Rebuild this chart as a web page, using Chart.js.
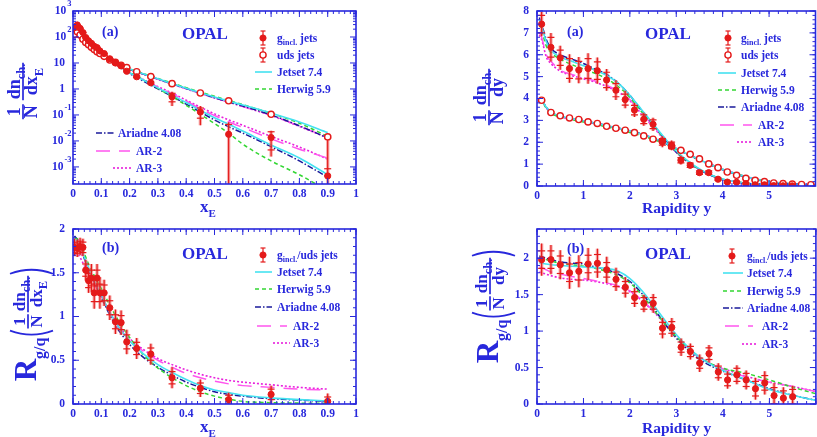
<!DOCTYPE html>
<html><head><meta charset="utf-8">
<script src="https://cdn.jsdelivr.net/npm/chart.js@4/dist/chart.umd.min.js"></script>
<style>
html,body{margin:0;padding:0;background:#fff;overflow:hidden;width:817px;height:437px;position:relative;}
canvas{position:absolute;}
</style></head><body>
<canvas id="pTL" width="410" height="218" style="left:0px;top:0px"></canvas>
<canvas id="pTR" width="410" height="218" style="left:410px;top:0px"></canvas>
<canvas id="pBL" width="410" height="219" style="left:0px;top:218px"></canvas>
<canvas id="pBR" width="410" height="219" style="left:410px;top:218px"></canvas>
<script>
// ================= DATA =================
// x_E distributions (top-left)
const xeBins = [0.005,0.015,0.025,0.035,0.045,0.055,0.065,0.075,0.085,0.095,0.11,0.13,0.15,0.17,0.19,0.225,0.275,0.35,0.45,0.55,0.7,0.9];
const xeGluon = [225,290,215,148,95,71,57,44,39,29,23,14.5,10,7.7,4.8,2.95,1.72,0.5,0.13,0.018,0.0135,0.00045];
const xeGluonTot = [12,15,11,8,5,4,3,2.5,2,1.6,1.2,0.8,0.6,0.45,0.45,0.35,0.25,0.28,0.09,0.034,0.011,0.0105];
const xeGluonStat = [6,8,6,4,3,2,1.6,1.3,1.1,0.9,0.7,0.45,0.35,0.25,0.25,0.2,0.15,0.18,0.055,0.025,0.009,0.0004];
const xeUds = [125,160,120,82,62,50,40,33,27,23,18,13,10.5,8.2,6.6,4.6,3.0,1.6,0.70,0.35,0.106,0.0143];
const xeUdsTot = [4,5,4,3,2,1.5,1.2,1,0.8,0.7,0.5,0.4,0.3,0.25,0.2,0.15,0.1,0.06,0.03,0.02,0.008,0.0025];
const xeUdsStat = [2,3,2,1.5,1,0.8,0.6,0.5,0.4,0.35,0.25,0.2,0.15,0.12,0.1,0.08,0.05,0.03,0.015,0.01,0.004,0.0012];
// model curves, x_E
const xeModelX = [0.005,0.02,0.04,0.06,0.08,0.1,0.125,0.15,0.175,0.2,0.25,0.3,0.35,0.4,0.45,0.5,0.55,0.6,0.7,0.8,0.9];
const xeUdsJetset  = [130,150,75,45,30,22,14.5,10.3,7.6,5.8,3.8,2.45,1.62,1.07,0.72,0.49,0.34,0.24,0.118,0.054,0.021];
const xeUdsHerwig  = [128,148,74,45,30,22,14.5,10.3,7.7,5.9,3.9,2.55,1.7,1.12,0.76,0.52,0.36,0.25,0.115,0.048,0.015];
const xeUdsAriadne = [130,150,75,45,30,22,14.4,10.2,7.5,5.7,3.7,2.4,1.58,1.04,0.69,0.46,0.32,0.22,0.1,0.038,0.013];
const xeUdsAR2     = [125,147,74,45,30,22,14.4,10.2,7.5,5.7,3.7,2.38,1.56,1.02,0.68,0.45,0.31,0.21,0.097,0.037,0.0135];
const xeUdsAR3     = [122,145,73,44,30,22,14.3,10.1,7.4,5.6,3.65,2.36,1.55,1.01,0.67,0.45,0.31,0.21,0.096,0.036,0.013];
const xeGJetset  = [245,280,125,68,41,27,15.5,9.7,6.2,4.2,2.15,1.1,0.58,0.3,0.15,0.078,0.044,0.024,0.007,0.0022,0.0005];
const xeGHerwig  = [245,280,128,70,43,29,16.8,10.4,6.8,4.5,2.2,1.05,0.51,0.235,0.106,0.047,0.02,0.0075,0.0017,0.0005,0.00012];
const xeGAriadne = [250,280,125,67,40,26.8,15,9.2,5.9,3.9,1.96,1.0,0.52,0.26,0.13,0.064,0.035,0.02,0.006,0.0017,0.0004];
const xeGAR2     = [228,262,120,66,40,27,15.4,9.5,6.2,4.2,2.2,1.19,0.65,0.34,0.17,0.095,0.055,0.033,0.012,0.0048,0.0022];
const xeGAR3     = [210,246,115,64,40,27,15.4,9.6,6.2,4.2,2.26,1.23,0.7,0.37,0.2,0.11,0.065,0.04,0.015,0.0058,0.002];
// ratio in x_E (bottom-left)
const xeRatio = [1.79,1.78,1.80,1.79,1.53,1.41,1.44,1.27,1.44,1.27,1.27,1.10,0.94,0.93,0.71,0.635,0.57,0.30,0.18,0.05,0.11,0.03];
const xeRatioTot = [0.1,0.1,0.1,0.1,0.12,0.14,0.16,0.18,0.16,0.18,0.15,0.14,0.14,0.14,0.14,0.12,0.12,0.12,0.1,0.08,0.1,0.09];
const xeRatioStat = [0.06,0.06,0.06,0.06,0.07,0.08,0.09,0.1,0.09,0.1,0.09,0.08,0.08,0.08,0.08,0.07,0.07,0.07,0.06,0.05,0.06,0.05];
const xeRJetset  = [1.88,1.85,1.68,1.52,1.38,1.25,1.08,0.94,0.82,0.72,0.57,0.45,0.36,0.28,0.21,0.16,0.13,0.10,0.07,0.05,0.035];
const xeRHerwig  = [1.9,1.87,1.72,1.56,1.44,1.32,1.16,1.01,0.88,0.76,0.56,0.41,0.3,0.21,0.14,0.09,0.055,0.03,0.015,0.01,0.008];
const xeRAriadne = [1.92,1.86,1.66,1.5,1.36,1.22,1.05,0.9,0.78,0.68,0.53,0.42,0.33,0.25,0.19,0.14,0.11,0.09,0.06,0.045,0.03];
const xeRAR2     = [1.82,1.78,1.62,1.48,1.35,1.23,1.07,0.93,0.82,0.73,0.6,0.5,0.42,0.35,0.3,0.26,0.23,0.21,0.19,0.17,0.16];
const xeRAR3     = [1.72,1.70,1.58,1.46,1.34,1.23,1.08,0.95,0.84,0.75,0.62,0.52,0.45,0.39,0.34,0.30,0.27,0.25,0.22,0.19,0.17];
// rapidity distributions (top-right)
const rapBinsG = [0.1,0.3,0.5,0.7,0.9,1.1,1.3,1.5,1.7,1.9,2.1,2.3,2.5,2.7,2.9,3.1,3.3,3.5,3.7,3.9,4.1,4.3,4.5,4.7,4.9,5.1,5.3,5.5];
const rapGluon = [7.4,6.34,5.86,5.37,5.3,5.37,5.27,4.85,4.38,3.95,3.47,3.05,2.82,2.02,1.86,1.18,0.95,0.61,0.61,0.31,0.18,0.17,0.11,0.055,0.055,0.017,0.01,0.007];
const rapGluonTot = [0.55,0.65,0.55,0.65,0.6,0.7,0.6,0.5,0.45,0.4,0.32,0.3,0.3,0.25,0.22,0.2,0.15,0.12,0.12,0.08,0.06,0.06,0.05,0.04,0.04,0.03,0.03,0.02];
const rapGluonStat = [0.4,0.45,0.35,0.45,0.4,0.45,0.4,0.35,0.3,0.25,0.22,0.2,0.2,0.15,0.15,0.12,0.1,0.08,0.08,0.05,0.04,0.04,0.03,0.03,0.03,0.02,0.02,0.015];
const rapBinsU = [0.1,0.3,0.5,0.7,0.9,1.1,1.3,1.5,1.7,1.9,2.1,2.3,2.5,2.7,2.9,3.1,3.3,3.5,3.7,3.9,4.1,4.3,4.5,4.7,4.9,5.1,5.3,5.5,5.7,5.9];
const rapUds = [3.92,3.36,3.21,3.11,3.04,2.93,2.86,2.73,2.64,2.55,2.44,2.29,2.14,2.06,1.82,1.63,1.45,1.24,1.01,0.84,0.64,0.49,0.35,0.26,0.2,0.14,0.11,0.09,0.07,0.06];
const rapUdsTot = [0.06,0.05,0.05,0.05,0.05,0.05,0.05,0.05,0.05,0.05,0.05,0.05,0.05,0.05,0.05,0.04,0.04,0.04,0.04,0.03,0.03,0.03,0.03,0.02,0.02,0.02,0.02,0.02,0.02,0.02];
const rapUdsStat = [0.03,0.03,0.03,0.03,0.03,0.03,0.03,0.03,0.03,0.03,0.03,0.03,0.03,0.03,0.03,0.02,0.02,0.02,0.02,0.02,0.02,0.02,0.02,0.01,0.01,0.01,0.01,0.01,0.01,0.01];
const rapModelX = [0.05,0.1,0.2,0.3,0.5,0.75,1.0,1.25,1.5,1.75,2.0,2.25,2.5,2.75,3.0,3.25,3.5,3.75,4.0,4.5,5.0,5.5,6.0];
const rapGJetset  = [7.6,7.3,6.6,6.2,5.9,5.7,5.5,5.3,5.05,4.7,4.15,3.5,2.85,2.2,1.6,1.15,0.78,0.5,0.32,0.13,0.05,0.02,0.01];
const rapGHerwig  = [7.4,7.1,6.4,6.1,5.8,5.55,5.35,5.15,4.9,4.55,4.05,3.4,2.8,2.15,1.58,1.12,0.76,0.5,0.32,0.13,0.05,0.02,0.01];
const rapGAriadne = [7.7,7.4,6.7,6.3,6.0,5.8,5.6,5.35,5.1,4.7,4.15,3.45,2.8,2.15,1.55,1.1,0.75,0.48,0.3,0.12,0.045,0.018,0.008];
const rapGAR2     = [7.0,6.8,6.0,5.7,5.3,5.1,4.95,4.8,4.6,4.35,3.95,3.35,2.75,2.12,1.55,1.1,0.75,0.49,0.31,0.13,0.05,0.02,0.01];
const rapGAR3     = [6.9,6.7,5.9,5.6,5.25,5.05,4.9,4.75,4.55,4.3,3.9,3.3,2.7,2.1,1.55,1.1,0.75,0.49,0.31,0.13,0.05,0.02,0.01];
const rapUJetset  = [4.0,3.93,3.6,3.38,3.2,3.08,2.98,2.87,2.76,2.64,2.53,2.38,2.2,1.98,1.72,1.45,1.2,0.97,0.76,0.42,0.2,0.09,0.04];
const rapUHerwig  = [3.98,3.9,3.55,3.33,3.15,3.03,2.93,2.82,2.7,2.58,2.45,2.3,2.13,1.93,1.7,1.45,1.2,0.97,0.77,0.43,0.21,0.095,0.04];
const rapUAriadne = [4.0,3.93,3.6,3.38,3.2,3.08,2.98,2.88,2.77,2.65,2.54,2.38,2.18,1.96,1.7,1.43,1.18,0.95,0.74,0.4,0.19,0.085,0.035];
const rapUAR2     = [3.98,3.9,3.58,3.36,3.18,3.06,2.96,2.86,2.75,2.64,2.53,2.38,2.2,1.98,1.72,1.46,1.21,0.98,0.77,0.43,0.21,0.095,0.04];
const rapUAR3     = [3.97,3.89,3.57,3.35,3.17,3.05,2.95,2.85,2.74,2.63,2.52,2.37,2.19,1.97,1.72,1.46,1.21,0.98,0.77,0.43,0.21,0.095,0.04];
// ratio in rapidity (bottom-right)
const rapRatio = [1.98,1.98,1.91,1.80,1.82,1.92,1.93,1.84,1.71,1.60,1.46,1.38,1.38,1.04,1.05,0.78,0.72,0.56,0.69,0.44,0.33,0.40,0.33,0.21,0.29,0.115,0.08,0.10];
const rapRatioTot = [0.22,0.2,0.2,0.22,0.22,0.22,0.2,0.18,0.16,0.14,0.13,0.12,0.13,0.14,0.13,0.12,0.11,0.12,0.12,0.12,0.12,0.13,0.13,0.15,0.16,0.17,0.15,0.15];
const rapRatioStat = [0.12,0.12,0.12,0.12,0.12,0.12,0.12,0.1,0.1,0.08,0.08,0.08,0.08,0.08,0.08,0.07,0.07,0.07,0.08,0.08,0.08,0.09,0.09,0.1,0.1,0.11,0.1,0.1];
const rapRJetset  = [1.93,1.93,1.92,1.91,1.9,1.89,1.88,1.87,1.86,1.82,1.72,1.56,1.36,1.15,0.95,0.78,0.64,0.54,0.46,0.33,0.2,0.12,0.05];
const rapRHerwig  = [2.01,2.0,1.98,1.96,1.93,1.91,1.89,1.86,1.82,1.76,1.66,1.5,1.3,1.1,0.92,0.77,0.64,0.55,0.49,0.42,0.33,0.23,0.14];
const rapRAriadne = [2.03,2.02,2.0,1.98,1.95,1.93,1.92,1.88,1.84,1.78,1.68,1.52,1.32,1.1,0.9,0.74,0.61,0.52,0.45,0.33,0.21,0.12,0.05];
const rapRAR2     = [1.88,1.87,1.84,1.81,1.78,1.75,1.72,1.69,1.66,1.62,1.55,1.43,1.28,1.1,0.93,0.77,0.64,0.55,0.48,0.37,0.3,0.24,0.17];
const rapRAR3     = [1.81,1.8,1.78,1.76,1.73,1.71,1.7,1.68,1.65,1.61,1.54,1.42,1.27,1.1,0.92,0.77,0.64,0.55,0.49,0.38,0.3,0.24,0.17];
// tick labels
const xeTicks = [0,0.1,0.2,0.3,0.4,0.5,0.6,0.7,0.8,0.9,1];
const xeTickLabels = ['0','0.1','0.2','0.3','0.4','0.5','0.6','0.7','0.8','0.9','1'];
const rapTicks = [0,1,2,3,4,5,6];
const rapTickLabels = ['0','1','2','3','4','5',''];
const logTicks = [1e3,1e2,10,1,0.1,0.01,0.001];
const logTickBase = ['10','10','10','1','10','10','10'];
const logTickExp = ['3','2','','','-1','-2','-3'];
const dyTicks = [0,1,2,3,4,5,6,7,8];
const dyTickLabels = ['0','1','2','3','4','5','6','7','8'];
const rTicks = [0,0.5,1,1.5,2];
const rTickLabels = ['0','0.5','1','1.5','2'];
const modelNames = ['Jetset 7.4','Herwig 5.9','Ariadne 4.08','AR-2','AR-3'];

// ================= STYLE =================
const BLUE = '#2828dc';
const RED = '#e41a1a';
const FONT = '"Liberation Serif","Times New Roman",serif';
const MST = [
  {color:'#44e2f0', dash:[], width:1.6},
  {color:'#33d633', dash:[4,3], width:1.5},
  {color:'#1a1a9a', dash:[6,2,1.5,2], width:1.5},
  {color:'#ff55ee', dash:[14,9], width:1.5},
  {color:'#e820dc', dash:[2,2], width:1.6}
];

function modelSets(xs, arrs){
  return arrs.map((arr,i)=>({
    label: modelNames[i],
    data: xs.map((x,j)=>({x:x, y:arr[j]})),
    showLine:true, pointRadius:0, borderColor:MST[i].color, borderWidth:MST[i].width,
    borderDash:MST[i].dash, cubicInterpolationMode:'monotone', fill:false
  }));
}
function pointSet(label, xs, ys, tot, stat, open){
  return {label, data: xs.map((x,j)=>({x:x, y:ys[j]})), errTot:tot, errStat:stat,
    showLine:false, pointRadius:3.1, pointHoverRadius:3.1,
    pointBackgroundColor: open?'#ffffff':RED, pointBorderColor:RED, pointBorderWidth: open?1.4:1};
}

// ================= DRAW HELPERS =================
function fnt(sz, w){ return (w||'bold')+' '+sz+'px '+FONT; }
function measureRich(ctx, parts, fs){
  let w=0;
  for(const p of parts){ const f = p[1]==='n'? fs : (p[2]||Math.round(fs*0.68)); ctx.font=fnt(f); w+=ctx.measureText(p[0]).width; }
  return w;
}
function rich(ctx, x, y, parts, fs, align){
  const w = measureRich(ctx, parts, fs);
  let cx = align==='center'? x-w/2 : align==='right'? x-w : x;
  for(const p of parts){
    const f = p[1]==='n'? fs : (p[2]||Math.round(fs*0.68));
    ctx.font=fnt(f);
    const dy = p[1]==='b'? fs*0.3 : p[1]==='p'? -fs*0.45 : 0;
    ctx.fillText(p[0], cx, y+dy);
    cx += ctx.measureText(p[0]).width;
  }
  return w;
}
function seg(ctx,x1,y1,x2,y2){ ctx.beginPath(); ctx.moveTo(x1,y1); ctx.lineTo(x2,y2); ctx.stroke(); }

function legMarker(ctx, x, y, open){
  ctx.save();
  ctx.strokeStyle=RED; ctx.lineWidth=1.2; ctx.setLineDash([]);
  seg(ctx,x,y-7,x,y+7); seg(ctx,x-2.5,y-7,x+2.5,y-7); seg(ctx,x-2.5,y+7,x+2.5,y+7);
  ctx.beginPath(); ctx.arc(x,y,3.1,0,Math.PI*2);
  ctx.fillStyle= open? '#fff': RED; ctx.fill(); ctx.lineWidth=open?1.4:1; ctx.stroke();
  ctx.restore();
}
function legLine(ctx, x1, x2, y, i){
  ctx.save(); ctx.strokeStyle=MST[i].color; ctx.lineWidth=MST[i].width; ctx.setLineDash(MST[i].dash);
  seg(ctx,x1,y,x2,y); ctx.restore();
}
function legText(ctx, x, y, parts){ ctx.fillStyle=BLUE; ctx.textBaseline='alphabetic'; rich(ctx, x, y+4, parts, 11.5, 'left'); }

function measureItem(ctx, it){
  if(it.t==='txt') return measureRich(ctx, it.parts, it.fs);
  if(it.t==='frac') return Math.max(measureRich(ctx,it.num,it.fs), measureRich(ctx,it.den,it.fs))+4;
  if(it.t==='paren') return 8;
  return it.w;
}
function yTitle(ctx, cx, cy, items){
  ctx.save(); ctx.translate(cx,cy); ctx.rotate(-Math.PI/2);
  ctx.fillStyle=BLUE; ctx.strokeStyle=BLUE; ctx.textBaseline='alphabetic'; ctx.setLineDash([]);
  const ws = items.map(it=>measureItem(ctx,it));
  let u = -ws.reduce((s,w)=>s+w,0)/2;
  items.forEach((it,i)=>{
    const w=ws[i];
    if(it.t==='txt'){ rich(ctx,u,it.v||0,it.parts,it.fs,'left'); }
    else if(it.t==='frac'){
      ctx.lineWidth=1.7; seg(ctx,u+1,it.bar,u+w-1,it.bar);
      rich(ctx,u+w/2,it.bar-3,it.num,it.fs,'center');
      rich(ctx,u+w/2,it.bar+it.fs*0.72+1.5,it.den,it.fs,'center');
    } else if(it.t==='paren'){
      ctx.lineWidth=1.8; ctx.beginPath();
      if(it.open){ ctx.moveTo(u+7,it.v1); ctx.quadraticCurveTo(u-1,(it.v1+it.v2)/2,u+7,it.v2); }
      else { ctx.moveTo(u+1,it.v1); ctx.quadraticCurveTo(u+9,(it.v1+it.v2)/2,u+1,it.v2); }
      ctx.stroke();
    }
    u+=w;
  });
  ctx.restore();
}

function drawErrors(chart, ds){
  const ctx=chart.ctx, a=chart.chartArea, xs=chart.scales.x, ys=chart.scales.y;
  const log = ys.type==='logarithmic';
  const py = v => (log && v<=0) ? a.bottom+30 : ys.getPixelForValue(v);
  ctx.save(); ctx.beginPath(); ctx.rect(a.left,a.top,a.right-a.left,a.bottom-a.top); ctx.clip();
  ctx.setLineDash([]);
  ds.data.forEach((p,i)=>{
    const x=xs.getPixelForValue(p.x);
    const t=ds.errTot[i], s=ds.errStat[i];
    const y1=py(p.y-t), y2=py(p.y+t);
    ctx.strokeStyle='rgba(242,110,110,0.55)'; ctx.lineWidth=3.4;
    seg(ctx,x,y1,x,y2);
    ctx.strokeStyle=RED; ctx.lineWidth=1.2;
    seg(ctx,x,y1,x,y2);
    const s1=py(p.y-s), s2=py(p.y+s);
    seg(ctx,x-3.5,s1,x+3.5,s1); seg(ctx,x-3.5,s2,x+3.5,s2);
  });
  ctx.restore();
}

function drawAxes(chart, c){
  const ctx=chart.ctx, a=chart.chartArea, xs=chart.scales.x, ys=chart.scales.y;
  ctx.save(); ctx.setLineDash([]);
  ctx.strokeStyle=BLUE; ctx.lineWidth=1;
  const xMin=xs.min, xMax=xs.max;
  for(let v=xMin; v<=xMax+1e-9; v+=c.xMinorStep){ const x=xs.getPixelForValue(v); seg(ctx,x,a.bottom,x,a.bottom-3); seg(ctx,x,a.top,x,a.top+3); }
  c.xMajor.forEach(v=>{ const x=xs.getPixelForValue(v); seg(ctx,x,a.bottom,x,a.bottom-6); seg(ctx,x,a.top,x,a.top+6); });
  if(c.log){
    for(let e=-4;e<=3;e++) for(let k=2;k<=9;k++){ const v=k*Math.pow(10,e); if(v<ys.min||v>ys.max) continue; const y=ys.getPixelForValue(v); seg(ctx,a.left,y,a.left+3,y); seg(ctx,a.right,y,a.right-3,y); }
  } else {
    for(let v=ys.min; v<=ys.max+1e-9; v+=c.yMinorStep){ const y=ys.getPixelForValue(v); seg(ctx,a.left,y,a.left+3,y); seg(ctx,a.right,y,a.right-3,y); }
  }
  c.yMajor.forEach(v=>{ const y=ys.getPixelForValue(v); seg(ctx,a.left,y,a.left+6,y); seg(ctx,a.right,y,a.right-6,y); });
  ctx.lineWidth=1.6;
  ctx.strokeRect(a.left,a.top,a.right-a.left,a.bottom-a.top);
  // labels
  ctx.fillStyle=BLUE; ctx.textBaseline='middle';
  ctx.font=fnt(11.5); ctx.textAlign='center';
  c.xMajor.forEach((v,i)=>{ ctx.fillText(c.xLabels[i], xs.getPixelForValue(v), a.bottom+10); });
  ctx.textAlign='left';
  c.yMajor.forEach((v,i)=>{
    const y=ys.getPixelForValue(v);
    if(c.log){
      const b=logTickBase[i], e=logTickExp[i];
      if(e===''){ ctx.font=fnt(11.5); ctx.textAlign='right'; ctx.fillText(b, a.left-8, y); }
      else {
        ctx.font=fnt(8.5); const we=ctx.measureText(e).width;
        ctx.textAlign='left'; ctx.fillText(e, a.left-1.5-we, y-7);
        ctx.font=fnt(11.5); ctx.textAlign='right'; ctx.fillText(b, a.left-2.5-we, y);
      }
    } else { ctx.font=fnt(11.5); ctx.textAlign='right'; ctx.fillText(c.yLabels[i], a.left-8, y); }
  });
  ctx.restore();
}

const cfgs = {};
const decoPlugin = {
  id:'deco',
  beforeDatasetDraw(chart, args){ const ds=chart.data.datasets[args.index]; if(ds.errTot) drawErrors(chart, ds); },
  afterDraw(chart){
    const c = cfgs[chart.canvas.id]; const ctx=chart.ctx;
    drawAxes(chart, c);
    ctx.save(); ctx.translate(-c.ox,-c.oy); ctx.textAlign='left'; ctx.textBaseline='alphabetic'; ctx.fillStyle=BLUE;
    c.decor(ctx);
    ctx.restore();
  }
};

function makeChart(id, ox, oy, w, h, area, xRange, yOpt, datasets, c){
  c.ox=ox; c.oy=oy; cfgs[id]=c;
  return new Chart(document.getElementById(id), {
    type:'scatter',
    data:{datasets},
    options:{
      responsive:false, animation:false, events:[],
      layout:{padding:{left:area.l-ox, top:area.t-oy, right:ox+w-area.r, bottom:oy+h-area.b}},
      plugins:{legend:{display:false}, tooltip:{enabled:false}},
      scales:{
        x:{type:'linear', min:xRange[0], max:xRange[1], display:false},
        y:Object.assign({display:false}, yOpt)
      }
    },
    plugins:[decoPlugin]
  });
}

const gLab = [['g','n'],['incl.','b',8],[' jets','n']];
const ratioLab = [['g','n'],['incl.','b',8],['/uds jets','n']];
const rTitleDx = [
  {t:'txt',parts:[['R','n'],['g/q','b',16]],fs:31,v:0},
  {t:'paren',open:true,v1:-26,v2:17},
  {t:'frac',num:[['1','n']],den:[['N','n']],fs:17,bar:-8},
  {t:'frac',num:[['dn','n'],['ch.','b',12.5]],den:[['dx','n'],['E','b',12.5]],fs:17,bar:-8},
  {t:'paren',open:false,v1:-26,v2:17}
];
const rTitleDy = [
  {t:'txt',parts:[['R','n'],['g/q','b',16]],fs:31,v:0},
  {t:'paren',open:true,v1:-26,v2:17},
  {t:'frac',num:[['1','n']],den:[['N','n']],fs:17,bar:-8},
  {t:'frac',num:[['dn','n'],['ch.','b',12.5]],den:[['dy','n']],fs:17,bar:-8},
  {t:'paren',open:false,v1:-26,v2:17}
];

// ---- Top-left: x_E ----
makeChart('pTL',0,0,410,218,{l:73,t:11,r:356,b:184},[0,1],{type:'logarithmic',min:2.2e-4,max:1000},
  [pointSet('g incl. jets',xeBins,xeGluon,xeGluonTot,xeGluonStat,false),
   pointSet('uds jets',xeBins,xeUds,xeUdsTot,xeUdsStat,true)]
   .concat(modelSets(xeModelX,[xeUdsJetset,xeUdsHerwig,xeUdsAriadne,xeUdsAR2,xeUdsAR3]))
   .concat(modelSets(xeModelX,[xeGJetset,xeGHerwig,xeGAriadne,xeGAR2,xeGAR3])),
  {log:true, xMajor:xeTicks, xLabels:xeTickLabels, xMinorStep:0.02, yMajor:logTicks,
   decor(ctx){
     ctx.font=fnt(14); ctx.fillText('(a)',102,36);
     ctx.font=fnt(17); ctx.fillText('OPAL',182,39);
     legMarker(ctx,263,38,false); legText(ctx,277,38,gLab);
     legMarker(ctx,263,55,true); legText(ctx,277,55,[['uds jets','n']]);
     legLine(ctx,255,272,72,0); legText(ctx,277,72,[[modelNames[0],'n']]);
     legLine(ctx,255,272,89,1); legText(ctx,277,89,[[modelNames[1],'n']]);
     legLine(ctx,96,115,133,2); legText(ctx,118,133,[[modelNames[2],'n']]);
     legLine(ctx,96,130,151,3); legText(ctx,136,151,[[modelNames[3],'n']]);
     legLine(ctx,113,132,168,4); legText(ctx,136,168,[[modelNames[4],'n']]);
     ctx.fillStyle=BLUE; rich(ctx,200,212,[['x','n'],['E','b',11]],17,'left');
     yTitle(ctx,28,91,[
       {t:'frac',num:[['1','n']],den:[['N','n']],fs:18,bar:-5},
       {t:'sp',w:2},
       {t:'frac',num:[['dn','n'],['ch.','b',12.5]],den:[['dx','n'],['E','b',12.5]],fs:18,bar:-5}
     ]);
   }});

// ---- Top-right: rapidity ----
makeChart('pTR',410,0,410,218,{l:537,t:11,r:819,b:186},[0,6],{type:'linear',min:0,max:8},
  [pointSet('g incl. jets',rapBinsG,rapGluon,rapGluonTot,rapGluonStat,false),
   pointSet('uds jets',rapBinsU,rapUds,rapUdsTot,rapUdsStat,true)]
   .concat(modelSets(rapModelX,[rapUJetset,rapUHerwig,rapUAriadne,rapUAR2,rapUAR3]))
   .concat(modelSets(rapModelX,[rapGJetset,rapGHerwig,rapGAriadne,rapGAR2,rapGAR3])),
  {xMajor:rapTicks, xLabels:rapTickLabels, xMinorStep:0.2, yMajor:dyTicks, yLabels:dyTickLabels, yMinorStep:0.2,
   decor(ctx){
     ctx.font=fnt(14); ctx.fillText('(a)',567,36);
     ctx.font=fnt(17); ctx.fillText('OPAL',645,39);
     legMarker(ctx,728,38,false); legText(ctx,741,38,gLab);
     legMarker(ctx,728,55,true); legText(ctx,741,55,[['uds jets','n']]);
     legLine(ctx,718,736,73,0); legText(ctx,741,73,[[modelNames[0],'n']]);
     legLine(ctx,718,736,90,1); legText(ctx,741,90,[[modelNames[1],'n']]);
     legLine(ctx,718,736,107,2); legText(ctx,741,107,[[modelNames[2],'n']]);
     legLine(ctx,720,752,125,3); legText(ctx,758,125,[[modelNames[3],'n']]);
     legLine(ctx,737,753,142,4); legText(ctx,758,142,[[modelNames[4],'n']]);
     ctx.fillStyle=BLUE; ctx.font=fnt(15.5); ctx.fillText('Rapidity y',642,213);
     yTitle(ctx,494,97,[
       {t:'frac',num:[['1','n']],den:[['N','n']],fs:18,bar:-5},
       {t:'sp',w:2},
       {t:'frac',num:[['dn','n'],['ch.','b',12.5]],den:[['dy','n']],fs:18,bar:-5}
     ]);
   }});

// ---- Bottom-left: ratio x_E ----
makeChart('pBL',0,218,410,219,{l:73,t:229,r:356,b:404},[0,1],{type:'linear',min:0,max:2},
  [pointSet('g incl./uds jets',xeBins,xeRatio,xeRatioTot,xeRatioStat,false)]
   .concat(modelSets(xeModelX,[xeRJetset,xeRHerwig,xeRAriadne,xeRAR2,xeRAR3])),
  {xMajor:xeTicks, xLabels:xeTickLabels, xMinorStep:0.02, yMajor:rTicks, yLabels:rTickLabels, yMinorStep:0.1,
   decor(ctx){
     ctx.font=fnt(14); ctx.fillText('(b)',102,252);
     ctx.font=fnt(17); ctx.fillText('OPAL',182,259);
     legMarker(ctx,263,255,false); legText(ctx,277,255,ratioLab);
     legLine(ctx,255,272,272,0); legText(ctx,277,272,[[modelNames[0],'n']]);
     legLine(ctx,255,272,289,1); legText(ctx,277,289,[[modelNames[1],'n']]);
     legLine(ctx,255,272,307,2); legText(ctx,277,307,[[modelNames[2],'n']]);
     legLine(ctx,257,287,326,3); legText(ctx,293,326,[[modelNames[3],'n']]);
     legLine(ctx,273,290,343,4); legText(ctx,293,343,[[modelNames[4],'n']]);
     ctx.fillStyle=BLUE; rich(ctx,200,432,[['x','n'],['E','b',11]],17,'left');
     yTitle(ctx,36,324,rTitleDx);
   }});

// ---- Bottom-right: ratio rapidity ----
makeChart('pBR',410,218,410,219,{l:537,t:229,r:819,b:404},[0,6],{type:'linear',min:0,max:2.4},
  [pointSet('g incl./uds jets',rapBinsG,rapRatio,rapRatioTot,rapRatioStat,false)]
   .concat(modelSets(rapModelX,[rapRJetset,rapRHerwig,rapRAriadne,rapRAR2,rapRAR3])),
  {xMajor:rapTicks, xLabels:rapTickLabels, xMinorStep:0.2, yMajor:rTicks, yLabels:rTickLabels, yMinorStep:0.1,
   decor(ctx){
     ctx.font=fnt(14); ctx.fillText('(b)',567,253);
     ctx.font=fnt(17); ctx.fillText('OPAL',645,259);
     legMarker(ctx,732,256,false); legText(ctx,747,256,ratioLab);
     legLine(ctx,723,743,273,0); legText(ctx,747,273,[[modelNames[0],'n']]);
     legLine(ctx,723,743,291,1); legText(ctx,747,291,[[modelNames[1],'n']]);
     legLine(ctx,723,743,308,2); legText(ctx,747,308,[[modelNames[2],'n']]);
     legLine(ctx,725,753,326,3); legText(ctx,762,326,[[modelNames[3],'n']]);
     legLine(ctx,742,757,344,4); legText(ctx,762,344,[[modelNames[4],'n']]);
     ctx.fillStyle=BLUE; ctx.font=fnt(15.5); ctx.fillText('Rapidity y',642,433);
     yTitle(ctx,498,306,rTitleDy);
   }});
</script>
</body></html>
